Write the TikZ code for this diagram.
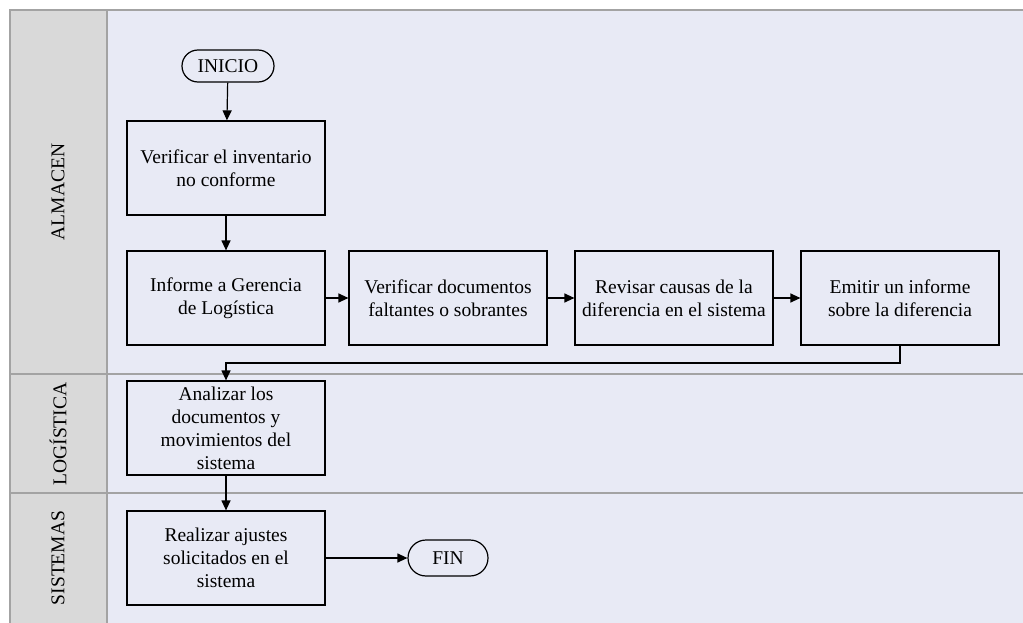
\documentclass[tikz,border=0pt]{standalone}
\usepackage{fontspec}
\setmainfont{Liberation Serif}
\usetikzlibrary{arrows.meta,shapes.misc}
\definecolor{laneback}{HTML}{E8EAF5}
\definecolor{labelback}{HTML}{D9D9D9}
\definecolor{laneline}{HTML}{A3A3A3}
\tikzset{
  procbox/.style={draw,line width=1.2pt,minimum width=198pt,minimum height=94pt,inner sep=1pt,align=center,font=\fontsize{19.5}{23}\selectfont},
  termbox/.style={draw,line width=1.2pt,rounded rectangle,inner sep=1pt,font=\fontsize{19.5}{23}\selectfont},
  lanelabel/.style={rotate=90,font=\fontsize{19.5}{23}\selectfont},
  flow/.style={line width=1.2pt,-{Triangle[length=10pt,width=9pt]}}
}
\begin{document}
\begin{tikzpicture}[x=1pt,y=1pt,yscale=-1]
\useasboundingbox (0,0) rectangle (1023,623);
% lanes
\fill[labelback] (10,10) rectangle (107,630);
\fill[laneback] (107,10) rectangle (1030,630);
\draw[laneline,line width=1.5pt] (1030,10) -- (10,10) -- (10,630);
\draw[laneline,line width=1.5pt] (107,10) -- (107,630);
\draw[laneline,line width=1.5pt] (10,374) -- (1030,374);
\draw[laneline,line width=1.5pt] (10,493) -- (1030,493);
\node[lanelabel] (almacen) at (58,192) {ALMACEN};
\node[lanelabel] (logistica) at (58,434) {LOGÍSTICA};
\node[lanelabel] (sistemas) at (58,558) {SISTEMAS};
% nodes
\node[termbox,minimum width=94pt,minimum height=32pt] (inicio) at (228,66) {INICIO};
\node[procbox] (verif) at (226,168) {Verificar el inventario\\no conforme};
\node[procbox] (informe) at (226,298) {Informe a Gerencia\\de Logística};
\node[procbox] (docs) at (448,298) {Verificar documentos\\faltantes o sobrantes};
\node[procbox] (causas) at (674,298) {Revisar causas de la\\diferencia en el sistema};
\node[procbox] (emitir) at (900,298) {Emitir un informe\\sobre la diferencia};
\node[procbox] (analizar) at (226,428) {Analizar los\\documentos y\\movimientos del\\sistema};
\node[procbox] (ajustes) at (226,558) {Realizar ajustes\\solicitados en el\\sistema};
\node[termbox,minimum width=82pt,minimum height=36pt] (fin) at (448,558) {FIN};
% connectors
\draw[flow] (inicio) -- (verif);
\draw[flow] (verif) -- (informe);
\draw[flow] (informe) -- (docs);
\draw[flow] (docs) -- (causas);
\draw[flow] (causas) -- (emitir);
\draw[flow] (emitir.south) |- (226,363) -- (analizar.north);
\draw[flow] (analizar) -- (ajustes);
\draw[flow] (ajustes) -- (fin);
\end{tikzpicture}
\end{document}
